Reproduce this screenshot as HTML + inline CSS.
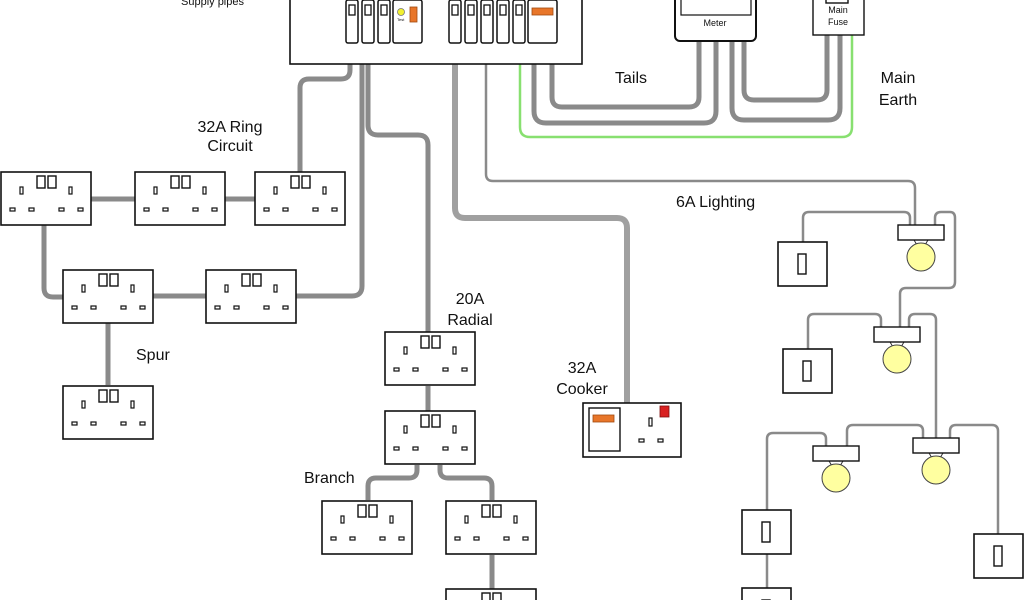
<!DOCTYPE html>
<html><head><style>
html,body{margin:0;padding:0;background:#fff;width:1024px;height:600px;overflow:hidden;}
svg{display:block;}
text{font-family:"Liberation Sans",Arial,sans-serif;fill:#111;}
</style></head><body>
<svg width="1024" height="600" viewBox="0 0 1024 600" xmlns="http://www.w3.org/2000/svg">
<defs>
<g id="sock">
<rect x="0" y="0" width="90" height="53" fill="#fff" stroke="#111" stroke-width="1.6"/>
<rect x="36" y="4" width="8" height="12" fill="#fff" stroke="#111" stroke-width="1.4"/>
<rect x="47" y="4" width="8" height="12" fill="#fff" stroke="#111" stroke-width="1.4"/>
<rect x="19" y="15" width="3" height="7" fill="#fff" stroke="#111" stroke-width="1.2"/>
<rect x="68" y="15" width="3" height="7" fill="#fff" stroke="#111" stroke-width="1.2"/>
<rect x="9" y="36" width="5" height="3" fill="#fff" stroke="#111" stroke-width="1.2"/>
<rect x="28" y="36" width="5" height="3" fill="#fff" stroke="#111" stroke-width="1.2"/>
<rect x="58" y="36" width="5" height="3" fill="#fff" stroke="#111" stroke-width="1.2"/>
<rect x="77" y="36" width="5" height="3" fill="#fff" stroke="#111" stroke-width="1.2"/>
</g>
<g id="sw">
<rect x="0" y="0" width="49" height="44" fill="#fff" stroke="#111" stroke-width="1.6"/>
<rect x="20" y="12" width="8" height="20" fill="#fff" stroke="#111" stroke-width="1.4"/>
</g>
<g id="lamp">
<line x1="16" y1="15" x2="19" y2="20" stroke="#333" stroke-width="1"/>
<line x1="30" y1="15" x2="27" y2="20" stroke="#333" stroke-width="1"/>
<circle cx="23" cy="32" r="14" fill="#ffffa0" stroke="#444" stroke-width="1"/>
<rect x="0" y="0" width="46" height="15" fill="#fff" stroke="#111" stroke-width="1.4"/>
</g>
<g id="brk">
<rect x="0" y="0" width="12" height="43" rx="2" fill="#fff" stroke="#111" stroke-width="1.5"/>
<rect x="3" y="5" width="6" height="10" fill="#fff" stroke="#111" stroke-width="1.3"/>
</g>
</defs>

<g fill="none" stroke="#8a8a8a" stroke-width="5" stroke-linejoin="round">
<path d="M350 64 V70 Q350 79 341 79 H309 Q300 79 300 88 V173"/>
<path d="M362 64 V286 Q362 296 352 296 H296"/>
<path d="M368 64 V125 Q368 135 378 135 H418 Q428 135 428 145 V332"/>
<path d="M428 386 V411"/>
<path d="M534 64 V111 Q534 123 546 123 H704 Q716 123 716 111 V41"/>
<path d="M552 64 V97 Q552 107 562 107 H689 Q699 107 699 97 V41"/>
<path d="M732 41 V108 Q732 120 744 120 H828 Q840 120 840 108 V35"/>
<path d="M744 41 V90 Q744 100 754 100 H817 Q827 100 827 90 V35"/>
<path d="M90 199 H135 M225 199 H255"/>
<path d="M44 225 V288 Q44 297 53 297 H63"/>
<path d="M153 296 H206"/>
<path d="M108 323 V385"/>
<path d="M417 465 V470 Q417 478 409 478 H376 Q368 478 368 486 V500"/>
<path d="M440 465 V470 Q440 478 448 478 H484 Q492 478 492 486 V500"/>
<path d="M492 555 V590"/>
</g>
<path d="M455 64 V208 Q455 218 465 218 H617 Q627 218 627 228 V403" fill="none" stroke="#a0a0a0" stroke-width="6"/>
<path d="M520 64 V127 Q520 137 530 137 H842 Q852 137 852 127 V35" fill="none" stroke="#88e070" stroke-width="2.5"/>

<g fill="none" stroke="#8a8a8a" stroke-width="2.5" stroke-linejoin="round">
<path d="M486 64 V174 Q486 181 493 181 H908 Q915 181 915 188 V225"/>
<path d="M910 225 V218 Q910 212 904 212 H809 Q803 212 803 218 V242"/>
<path d="M935 225 V218 Q935 212 941 212 H950 Q955 212 955 218 V282 Q955 288 949 288 H906 Q900 288 900 294 V327"/>
<path d="M881 327 V320 Q881 314 875 314 H814 Q808 314 808 320 V349"/>
<path d="M909 327 V320 Q909 314 915 314 H930 Q936 314 936 320 V438"/>
<path d="M826 446 V439 Q826 433 820 433 H773 Q767 433 767 439 V510"/>
<path d="M847 446 V431 Q847 425 853 425 H917 Q923 425 923 431 V438"/>
<path d="M950 438 V431 Q950 425 956 425 H992 Q998 425 998 431 V534"/>
<path d="M767 553 V590"/>
</g>

<rect x="290" y="-10" width="292" height="74" fill="#fff" stroke="#111" stroke-width="1.6"/>
<use href="#brk" x="346" y="0"/><use href="#brk" x="362" y="0"/><use href="#brk" x="378" y="0"/>
<rect x="393" y="0" width="29" height="43" rx="2" fill="#fff" stroke="#111" stroke-width="1.5"/>
<circle cx="401" cy="12" r="3.5" fill="#f2f030" stroke="#777" stroke-width="0.8"/>
<rect x="410" y="7" width="7" height="15" fill="#e8762a" stroke="#a04a10" stroke-width="0.8"/>
<text x="397" y="21" font-size="4">Test</text>
<use href="#brk" x="449" y="0"/><use href="#brk" x="465" y="0"/><use href="#brk" x="481" y="0"/><use href="#brk" x="497" y="0"/><use href="#brk" x="513" y="0"/>
<rect x="528" y="0" width="29" height="43" rx="2" fill="#fff" stroke="#111" stroke-width="1.5"/>
<rect x="532" y="8" width="21" height="7" fill="#e8762a" stroke="#a04a10" stroke-width="0.8"/>

<rect x="675" y="-10" width="81" height="51" rx="5" fill="#fff" stroke="#111" stroke-width="2"/>
<rect x="681" y="-10" width="70" height="25" fill="#fff" stroke="#111" stroke-width="1.2"/>
<text x="715" y="26" font-size="9" text-anchor="middle">Meter</text>
<rect x="813" y="-10" width="51" height="45" fill="#fff" stroke="#111" stroke-width="1.4"/>
<rect x="826" y="-10" width="22" height="13" fill="#fff" stroke="#111" stroke-width="1.4"/>
<text x="838" y="13" font-size="9" text-anchor="middle">Main</text>
<text x="838" y="25" font-size="9" text-anchor="middle">Fuse</text>

<use href="#sock" x="1" y="172"/>
<use href="#sock" x="135" y="172"/>
<use href="#sock" x="255" y="172"/>
<use href="#sock" x="63" y="270"/>
<use href="#sock" x="206" y="270"/>
<use href="#sock" x="63" y="386"/>
<use href="#sock" x="385" y="332"/>
<use href="#sock" x="385" y="411"/>
<use href="#sock" x="322" y="501"/>
<use href="#sock" x="446" y="501"/>
<use href="#sock" x="446" y="589"/>

<rect x="583" y="403" width="98" height="54" fill="#fff" stroke="#111" stroke-width="1.6"/>
<rect x="589" y="408" width="31" height="43" fill="#fff" stroke="#111" stroke-width="1.4"/>
<rect x="593" y="415" width="21" height="7" fill="#e8762a" stroke="#a04a10" stroke-width="0.8"/>
<rect x="660" y="406" width="9" height="11" fill="#d82020" stroke="#801010" stroke-width="0.8"/>
<rect x="649" y="418" width="3" height="8" fill="#fff" stroke="#111" stroke-width="1.2"/>
<rect x="639" y="439" width="5" height="3" fill="#fff" stroke="#111" stroke-width="1.2"/>
<rect x="658" y="439" width="5" height="3" fill="#fff" stroke="#111" stroke-width="1.2"/>

<use href="#lamp" x="898" y="225"/>
<use href="#lamp" x="874" y="327"/>
<use href="#lamp" x="813" y="446"/>
<use href="#lamp" x="913" y="438"/>
<use href="#sw" x="778" y="242"/>
<use href="#sw" x="783" y="349"/>
<use href="#sw" x="742" y="510"/>
<use href="#sw" x="974" y="534"/>
<use href="#sw" x="742" y="588"/>

<text x="181" y="5" font-size="11">Supply pipes</text>
<text x="230" y="132" font-size="16" text-anchor="middle">32A Ring</text>
<text x="230" y="151" font-size="16" text-anchor="middle">Circuit</text>
<text x="136" y="360" font-size="16">Spur</text>
<text x="470" y="304" font-size="16" text-anchor="middle">20A</text>
<text x="470" y="325" font-size="16" text-anchor="middle">Radial</text>
<text x="582" y="373" font-size="16" text-anchor="middle">32A</text>
<text x="582" y="394" font-size="16" text-anchor="middle">Cooker</text>
<text x="304" y="483" font-size="16">Branch</text>
<text x="615" y="83" font-size="16">Tails</text>
<text x="898" y="83" font-size="16" text-anchor="middle">Main</text>
<text x="898" y="105" font-size="16" text-anchor="middle">Earth</text>
<text x="676" y="207" font-size="16">6A Lighting</text>
</svg>
</body></html>
